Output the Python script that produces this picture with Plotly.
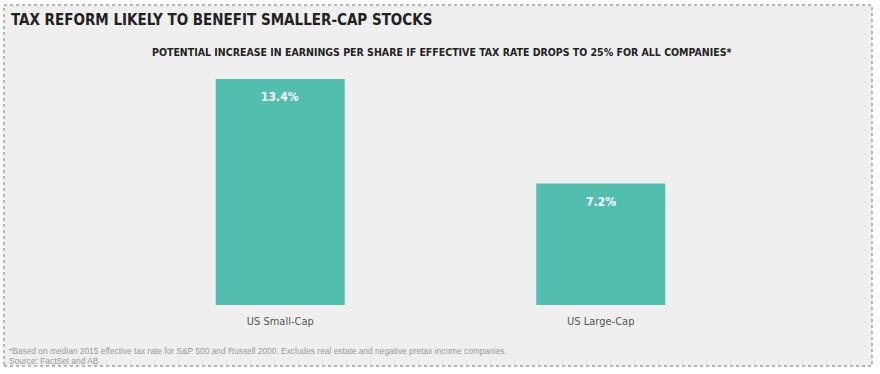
import plotly.graph_objects as go

categories = ["US Small-Cap", "US Large-Cap"]
values = [13.4, 7.2]
labels = ["13.4%", "7.2%"]

title = "TAX REFORM LIKELY TO BENEFIT SMALLER-CAP STOCKS"
subtitle = "POTENTIAL INCREASE IN EARNINGS PER SHARE IF EFFECTIVE TAX RATE DROPS TO 25% FOR ALL COMPANIES*"
foot1 = "*Based on median 2015 effective tax rate for S&P 500 and Russell 2000. Excludes real estate and negative pretax income companies."
foot2 = "Source: FactSet and AB"

COND = "DejaVu Sans Condensed"

W, H = 880, 374
L, R, T, B = 120, 119, 79, 69
pw, ph = W - L - R, H - T - B

def px(x):
    return (x - L) / pw

def py(y):
    return (H - B - y) / ph

fig = go.Figure(go.Bar(
    x=categories, y=values,
    marker=dict(color="#52bfae", line=dict(width=0)),
    width=0.4025, hoverinfo="skip",
))

for cat, v, lab in zip(categories, values, labels):
    fig.add_annotation(x=cat, y=v, text="<b>" + lab + "</b>", showarrow=False,
                       yanchor="middle", yshift=-18,
                       font=dict(family=COND, size=12, color="white"))

fig.add_shape(type="rect", xref="paper", yref="paper",
              x0=px(4), x1=px(872), y0=py(366), y1=py(5),
              fillcolor="#efefef", line=dict(color="#777", width=1, dash="dot"),
              layer="below")

fig.add_annotation(text="<b>" + title + "</b>", xref="paper", yref="paper",
                   x=px(9), y=py(20), xanchor="left", yanchor="middle", showarrow=False,
                   font=dict(family=COND, size=15, color="#222"))
fig.add_annotation(text="<b>" + subtitle + "</b>", xref="paper", yref="paper",
                   x=px(441), y=py(52), xanchor="center", yanchor="middle", showarrow=False,
                   font=dict(family=COND, size=10.5, color="#222"))
fig.add_annotation(text=foot1, xref="paper", yref="paper",
                   x=px(7), y=py(351), xanchor="left", yanchor="middle", showarrow=False,
                   font=dict(family="Liberation Sans", size=8.4, color="#999"))
fig.add_annotation(text=foot2, xref="paper", yref="paper",
                   x=px(7), y=py(361), xanchor="left", yanchor="middle", showarrow=False,
                   font=dict(family="Liberation Sans", size=8.4, color="#999"))

fig.update_layout(
    width=W, height=H, margin=dict(l=L, r=R, t=T, b=B, pad=0),
    paper_bgcolor="white", plot_bgcolor="rgba(0,0,0,0)",
    showlegend=False,
    xaxis=dict(range=[-0.5, 1.5], showgrid=False, zeroline=False, showline=False,
               ticks="", ticklabelstandoff=8,
               tickfont=dict(family=COND, size=11, color="#555")),
    yaxis=dict(range=[0, 13.4], visible=False),
)

fig.write_html("out.html", config={"displayModeBar": False},
               post_script="document.body.style.margin='0';document.body.style.overflow='hidden';")
